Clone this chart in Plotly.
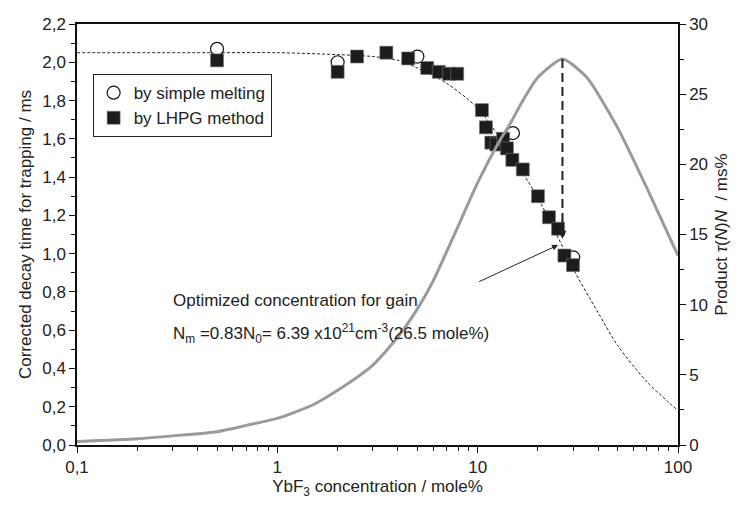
import numpy as np
import plotly.graph_objects as go

# ---- data ----
melt_x = [0.5, 2.0, 5.0, 15.0, 30.0]
melt_y = [2.07, 2.00, 2.03, 1.63, 0.98]

lhpg_x = [0.5, 2.0, 2.5, 3.5, 4.5, 5.6, 6.4, 7.2, 7.9, 10.5, 11.0, 11.7, 12.4, 13.4, 14.0, 14.9, 16.8, 20.0, 22.7, 25.2, 27.1, 29.9]
lhpg_y = [2.01, 1.95, 2.03, 2.05, 2.02, 1.97, 1.95, 1.94, 1.94, 1.75, 1.66, 1.58, 1.57, 1.60, 1.55, 1.49, 1.44, 1.30, 1.19, 1.13, 0.99, 0.94]

fit_x = [0.1, 0.5, 1, 2, 3, 4, 5, 7, 10, 14, 20, 27, 30, 40, 50, 70, 100]
fit_y = [2.05, 2.05, 2.05, 2.04, 2.03, 2.01, 1.97, 1.89, 1.76, 1.55, 1.29, 1.02, 0.92, 0.69, 0.52, 0.33, 0.18]

prod_x = [0.1, 0.2, 0.3, 0.5, 0.7, 1, 1.5, 2, 3, 4, 5, 6, 7.6, 10, 12.9, 14.4, 16.9, 20, 26.5, 35, 50, 70, 100]
prod_y = [0.25, 0.45, 0.65, 0.95, 1.4, 1.9, 2.85, 3.9, 5.7, 7.7, 9.7, 11.7, 14.9, 18.7, 21.7, 22.8, 24.6, 26.2, 27.5, 26.2, 22.6, 18.3, 13.5]

opt_x = 26.5
opt_top = 27.5
opt_bottom = 14.7

left_ticks = [0.0, 0.2, 0.4, 0.6, 0.8, 1.0, 1.2, 1.4, 1.6, 1.8, 2.0, 2.2]
left_labels = ["0,0", "0,2", "0,4", "0,6", "0,8", "1,0", "1,2", "1,4", "1,6", "1,8", "2,0", "2,2"]
bottom_ticks = [0.1, 1, 10, 100]
bottom_labels = ["0,1", "1", "10", "100"]
bottom_minor = [m * d for d in (0.1, 1, 10) for m in range(2, 10)]
right_ticks = [0, 5, 10, 15, 20, 25, 30]

FONT = "Liberation Sans, Arial, sans-serif"

fig = go.Figure()

fig.add_trace(go.Scatter(x=prod_x, y=prod_y, yaxis="y2", mode="lines",
                         line=dict(color="#9a9a9a", width=3, shape="spline", smoothing=0.6),
                         showlegend=False))
fig.add_trace(go.Scatter(x=fit_x, y=fit_y, mode="lines",
                         line=dict(color="#222", width=1, dash="3px,2px", shape="spline", smoothing=0.8),
                         showlegend=False))
fig.add_trace(go.Scatter(x=[opt_x, opt_x], y=[opt_top, opt_bottom + 0.6], yaxis="y2", mode="lines",
                         line=dict(color="#222", width=2, dash="9px,5px"), showlegend=False))
fig.add_trace(go.Scatter(x=melt_x, y=melt_y, mode="markers", name="by simple melting",
                         marker=dict(symbol="circle", size=13, color="white",
                                     line=dict(color="#111", width=1.2))))
fig.add_trace(go.Scatter(x=lhpg_x, y=lhpg_y, mode="markers", name="by LHPG method",
                         marker=dict(symbol="square", size=13, color="#1c1c1c",
                                     line=dict(color="#777", width=0.6))))

lx = np.log10(opt_x)
annotations = [
    dict(x=lx, y=opt_bottom, xref="x", yref="y2", ax=lx, ay=opt_bottom + 1.5,
         axref="x", ayref="y2", showarrow=True, arrowhead=2, arrowsize=1, arrowwidth=1.6,
         arrowcolor="#222", text=""),
    dict(x=np.log10(25.2), y=1.045, xref="x", yref="y", ax=np.log10(10.0), ay=0.85,
         axref="x", ayref="y", showarrow=True, arrowhead=2, arrowsize=1.2, arrowwidth=1,
         arrowcolor="#222", text=""),
    dict(x=0.157, y=0.344, xref="paper", yref="paper", xanchor="left", yanchor="middle",
         showarrow=False, text="Optimized concentration for gain",
         font=dict(family=FONT, size=17, color="#222")),
    dict(x=0.157, y=0.266, xref="paper", yref="paper", xanchor="left", yanchor="middle",
         showarrow=False,
         text="N<sub>m</sub> =0.83N<sub>0</sub>= 6.39 x10<sup>21</sup>cm<sup>-3</sup>(26.5 mole%)",
         font=dict(family=FONT, size=17, color="#222")),
]

axis_common = dict(showgrid=False, zeroline=False, showline=True, linecolor="#111", linewidth=1.5,
                   ticks="outside", tickcolor="#111", ticklen=6, tickwidth=1.2,
                   tickfont=dict(family=FONT, size=17, color="#222"))

fig.update_layout(
    width=740, height=505,
    margin=dict(l=77, r=57, t=24, b=60),
    paper_bgcolor="white", plot_bgcolor="white",
    font=dict(family=FONT, size=17, color="#222"),
    xaxis=dict(type="log", range=[-1, 2], tickvals=bottom_ticks, ticktext=bottom_labels,
               mirror=True,
               minor=dict(tickmode="array", tickvals=bottom_minor, ticks="outside", ticklen=4,
                          tickcolor="#111", tickwidth=1, showgrid=False),
               title=dict(text="YbF<sub>3</sub> concentration / mole%", standoff=4,
                          font=dict(family=FONT, size=17, color="#222")),
               **axis_common),
    yaxis=dict(range=[0, 2.2], tickvals=left_ticks, ticktext=left_labels,
               minor=dict(dtick=0.1, ticks="outside", ticklen=4, tickcolor="#111", tickwidth=1, showgrid=False),
               title=dict(text="Corrected decay time for trapping / ms", standoff=6,
                          font=dict(family=FONT, size=17, color="#222")),
               **axis_common),
    yaxis2=dict(range=[0, 30], tickvals=right_ticks, overlaying="y", side="right",
                minor=dict(dtick=2.5, ticks="outside", ticklen=4, tickcolor="#111", tickwidth=1, showgrid=False),
                title=dict(text="Product <i>τ</i>(<i>N</i>)<i>N</i>  / ms%", standoff=8,
                           font=dict(family=FONT, size=17, color="#222")),
                **axis_common),
    legend=dict(x=0.026, y=0.881, xanchor="left", yanchor="top",
                bgcolor="white", bordercolor="#222", borderwidth=1,
                font=dict(family=FONT, size=17, color="#222"), tracegroupgap=0),
    annotations=annotations,
    showlegend=True,
)

fig.write_html("out.html")
